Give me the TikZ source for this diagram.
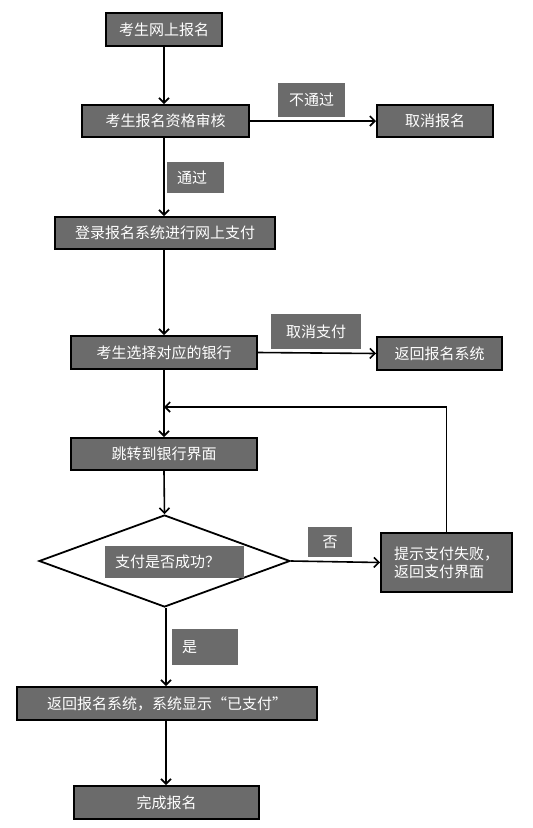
\documentclass[tikz,border=0pt]{standalone}
\usepackage{fontspec}
\newfontfamily\cjk{Noto Sans CJK SC}
\usetikzlibrary{arrows.meta,shapes.geometric}
\definecolor{boxgray}{HTML}{6B6B6B}
\begin{document}
\begin{tikzpicture}[x=1pt,y=-1pt,
  stepbox/.style={draw=black, line width=2pt, fill=boxgray, text=white, inner sep=0pt,
    font=\cjk\fontsize{15}{18}\selectfont, align=center},
  lab/.style={fill=boxgray, text=white, inner ysep=0pt,
    font=\cjk\fontsize{15}{18}\selectfont},
  arr/.style={line width=1.6pt, -{Straight Barb[length=5pt,width=10pt,line width=1.6pt]}},
  ln/.style={line width=1.6pt}]
\useasboundingbox[fill=white] (0,0) rectangle (533,828);
\coordinate (mx) at (164,0);
\coordinate (mx2) at (166,0);
% main boxes
\node[stepbox, minimum width=116pt, minimum height=33pt] (n1) at (164,29.5) {考生网上报名};
\node[stepbox, minimum width=167pt, minimum height=32pt] (n2) at (165.5,121) {考生报名资格审核};
\node[stepbox, minimum width=116pt, minimum height=32pt] (n3) at (435,121) {取消报名};
\node[stepbox, minimum width=220pt, minimum height=32pt] (n4) at (165,233) {登录报名系统进行网上支付};
\node[stepbox, minimum width=186pt, minimum height=33pt] (n5) at (164,352.5) {考生选择对应的银行};
\node[stepbox, minimum width=125pt, minimum height=33pt] (n6) at (439.5,353.5) {返回报名系统};
\node[stepbox, minimum width=186pt, minimum height=32pt] (n7) at (164,454) {跳转到银行界面};
\node[draw=black, line width=1.8pt, fill=white, diamond, inner sep=0pt,
  minimum width=251pt, minimum height=92pt] (d) at (164.5,561) {};
\node[stepbox, minimum width=131pt, minimum height=59pt, align=left] (n8) at (446.5,562.5)
  {提示支付失败，\\返回支付界面};
\node[stepbox, minimum width=300pt, minimum height=33pt] (n9) at (167,703.5) {返回报名系统，系统显示“已支付”};
\node[stepbox, minimum width=185pt, minimum height=33pt] (n10) at (166.5,802.5) {完成报名};
% labels
\node[lab, inner xsep=0pt, text width=67pt, align=center, minimum height=34pt] (l1) at (311.5,100) {不通过};
\node[lab, inner xsep=10pt, text width=37pt, align=left, minimum height=31pt] (l2) at (195.5,177.5) {通过};
\node[lab, inner xsep=0pt, text width=90pt, align=center, minimum height=35pt] (l3) at (316,331.5) {取消支付};
\node[lab, inner xsep=10pt, text width=119pt, align=left, minimum height=32pt] (l4) at (174.5,562) {支付是否成功？};
\node[lab, inner xsep=0pt, text width=44pt, align=center, minimum height=30pt] (l5) at (330,542) {否};
\node[lab, inner xsep=10pt, text width=46pt, align=left, minimum height=36pt] (l6) at (205,647) {是};
% connectors
\draw[arr] (n1.south -| mx) -- (n2.north -| mx);
\draw[arr] (n2.south -| mx) -- (n4.north -| mx);
\draw[arr] (n2.east) -- (n3.west);
\draw[arr] (n4.south -| mx) -- (n5.north -| mx);
\draw[arr] (n5.east) -- (n6.west);
\draw[arr] (n5.south -| mx) -- (n7.north -| mx);
\draw[arr] (n7.south -| mx) -- (d.north);
\draw[arr] (d.east) -- (n8.west);
\coordinate (j) at (164,407);
\draw[arr] (n8.north) |- (j);
\draw[arr] (d.south -| mx2) -- (n9.north -| mx2);
\draw[arr] (n9.south -| mx2) -- (n10.north -| mx2);
\end{tikzpicture}
\end{document}
